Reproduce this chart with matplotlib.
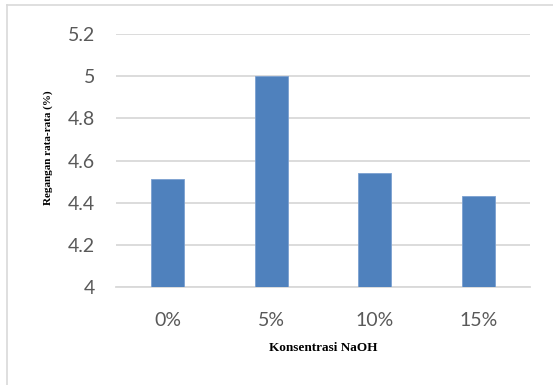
import matplotlib.pyplot as plt
from matplotlib.lines import Line2D

# Data
konsentrasi = ['0%', '5%', '10%', '15%']
regangan = [4.51, 5.00, 4.54, 4.43]
y_ticks = [4, 4.2, 4.4, 4.6, 4.8, 5, 5.2]
y_tick_labels = ['4', '4.2', '4.4', '4.6', '4.8', '5', '5.2']

W, H = 553, 385
fig = plt.figure(figsize=(W / 100, H / 100), dpi=100)

# Axes placement in pixels
left, right, top, bottom = 116, 530, 34, 287
ax = fig.add_axes([left / W, 1 - bottom / H, (right - left) / W, (bottom - top) / H])

grid_color = '#d9d9d9'
tick_color = '#595959'

x = range(len(konsentrasi))
ax.bar(x, regangan, width=0.32, color='#4f81bd', edgecolor='#7ba0d0', linewidth=0.6, zorder=3)

ax.set_xlim(-0.5, len(konsentrasi) - 0.5)
ax.set_ylim(4, 5.2)
ax.set_yticks(y_ticks)
ax.set_yticklabels(y_tick_labels)
ax.set_xticks(list(x))
ax.set_xticklabels(konsentrasi)

ax.grid(axis='y', color=grid_color, linewidth=1.3, zorder=0)
for side in ['left', 'right', 'top']:
    ax.spines[side].set_visible(False)
ax.spines['bottom'].set_color(grid_color)
ax.spines['bottom'].set_linewidth(1.3)
ax.tick_params(axis='both', length=0, colors=tick_color, labelsize=14)
ax.tick_params(axis='y', pad=15)
ax.tick_params(axis='x', pad=18)
for lbl in ax.get_xticklabels() + ax.get_yticklabels():
    lbl.set_fontfamily('Lato')

fig.text(323 / W, 1 - 348 / H, 'Konsentrasi NaOH', ha='center', va='center',
         fontsize=9.5, fontweight='bold', fontfamily='Liberation Serif', color='black')
fig.text(48 / W, 1 - 148 / H, 'Regangan rata-rata (%)', ha='center', va='center',
         rotation=90, fontsize=8, fontweight='bold', fontfamily='Liberation Serif', color='black')

# Chart area border: only left and top edges are visible
fig.lines.append(Line2D([6.5 / W, 6.5 / W], [0, 1 - 5 / H], transform=fig.transFigure,
                        color=grid_color, linewidth=1.2))
fig.lines.append(Line2D([6.5 / W, 1], [1 - 5 / H, 1 - 5 / H], transform=fig.transFigure,
                        color=grid_color, linewidth=1.2))

fig.savefig('out.png', dpi=100)
